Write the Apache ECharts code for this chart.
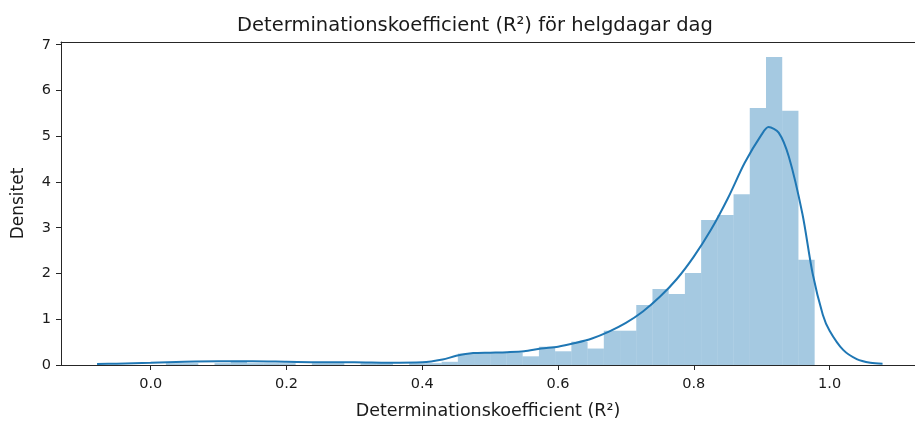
<!DOCTYPE html>
<html>
<head>
<meta charset="utf-8">
<script src="https://cdn.jsdelivr.net/npm/echarts@6/dist/echarts.min.js"></script>
<style>
html,body{margin:0;padding:0;background:#fff;}
#chart{width:915px;height:422px;}
</style>
</head>
<body>
<div id="chart"></div>
<script>
// ---- data ----
const titleText = 'Determinationskoefficient (R²) för helgdagar dag';
const xLabel = 'Determinationskoefficient (R²)';
const yLabel = 'Densitet';
const xTicks = [0.0, 0.2, 0.4, 0.6, 0.8, 1.0];
const yTicks = [0, 1, 2, 3, 4, 5, 6, 7];
const binStart = 0.0224;
const binWidth = 0.02389;
// histogram densities, left to right
const binHeights = [0.04, 0.04, 0, 0.04, 0.09, 0.04, 0.04, 0.04, 0, 0.04, 0.04, 0, 0.04, 0.04, 0, 0.04,
  0.04, 0.07, 0.25, 0.27, 0.27, 0.27, 0.19, 0.40, 0.30, 0.51, 0.36, 0.75, 0.75, 1.31,
  1.66, 1.55, 2.01, 3.17, 3.28, 3.73, 5.62, 6.73, 5.56, 2.30];
// KDE curve samples
const kdeX = [-0.079, -0.05, 0.0, 0.05, 0.1, 0.15, 0.2, 0.25, 0.3, 0.35, 0.4, 0.43, 0.45, 0.475, 0.5,
  0.525, 0.55, 0.575, 0.6, 0.625, 0.65, 0.675, 0.7, 0.725, 0.75, 0.775, 0.8, 0.825, 0.85, 0.875,
  0.9, 0.91, 0.925, 0.94, 0.96, 0.975, 0.99, 1.0, 1.02, 1.04, 1.06, 1.078];
const kdeY = [0.02, 0.03, 0.05, 0.07, 0.08, 0.08, 0.07, 0.06, 0.06, 0.05, 0.06, 0.12, 0.20, 0.26, 0.27,
  0.28, 0.30, 0.36, 0.40, 0.48, 0.58, 0.73, 0.92, 1.17, 1.49, 1.88, 2.37, 2.95, 3.64, 4.42,
  5.04, 5.20, 5.08, 4.55, 3.30, 2.00, 1.10, 0.75, 0.33, 0.13, 0.05, 0.03];

const histData = binHeights.map((h, i) => [binStart + i * binWidth, binStart + (i + 1) * binWidth, h]);
const kdeData = kdeX.map((x, i) => [x, kdeY[i]]);

const chart = echarts.init(document.getElementById('chart'), null, {renderer: 'canvas'});
const font = 'DejaVu Sans';
const axisColor = '#262626';
const textColor = '#1a1a1a';
const xMin = -0.1321, xMax = 1.1258;
chart.setOption({
  animation: false,
  backgroundColor: '#fff',
  title: {
    text: titleText,
    left: 470, top: 11, textAlign: 'center',
    textStyle: {fontFamily: font, fontSize: 19.5, fontWeight: 'normal', color: textColor}
  },
  grid: {left: 61, right: 0, top: 42, bottom: 57, show: false, containLabel: false, outerBoundsMode: 'none'},
  xAxis: [{
    type: 'value', min: xMin, max: xMax, position: 'bottom',
    name: xLabel, nameLocation: 'middle', nameGap: 37,
    nameTextStyle: {fontFamily: font, fontSize: 17.5, color: textColor},
    axisLine: {show: true, onZero: false, lineStyle: {color: axisColor, width: 1}},
    axisTick: {show: true, length: 5, lineStyle: {color: axisColor}, customValues: xTicks},
    axisLabel: {fontFamily: font, fontSize: 14.5, color: textColor, margin: 12, customValues: xTicks,
      formatter: v => v.toFixed(1)},
    splitLine: {show: false}
  }, {
    type: 'value', min: xMin, max: xMax, position: 'top',
    axisLine: {show: true, onZero: false, lineStyle: {color: axisColor, width: 1}},
    axisTick: {show: false}, axisLabel: {show: false}, splitLine: {show: false}
  }],
  yAxis: {
    type: 'value', min: 0, max: 7.06,
    name: yLabel, nameLocation: 'middle', nameGap: 34,
    nameTextStyle: {fontFamily: font, fontSize: 17, color: textColor},
    axisLine: {show: true, onZero: false, lineStyle: {color: axisColor, width: 1}},
    axisTick: {show: true, length: 5, lineStyle: {color: axisColor}, customValues: yTicks},
    axisLabel: {fontFamily: font, fontSize: 14.5, color: textColor, margin: 10, customValues: yTicks,
      formatter: v => String(v)},
    splitLine: {show: false}
  },
  series: [
    {
      type: 'custom',
      data: histData,
      z: 2,
      renderItem: function (params, api) {
        const p0 = api.coord([api.value(0), api.value(2)]);
        const p1 = api.coord([api.value(1), 0]);
        return {
          type: 'rect',
          shape: {x: p0[0], y: p0[1], width: p1[0] - p0[0], height: p1[1] - p0[1]},
          style: {fill: 'rgba(31,119,180,0.4)'}
        };
      }
    },
    {
      type: 'line',
      data: kdeData,
      z: 3,
      smooth: 0.3,
      showSymbol: false,
      symbol: 'none',
      lineStyle: {color: '#1f77b4', width: 2}
    }
  ]
});
</script>
</body>
</html>
